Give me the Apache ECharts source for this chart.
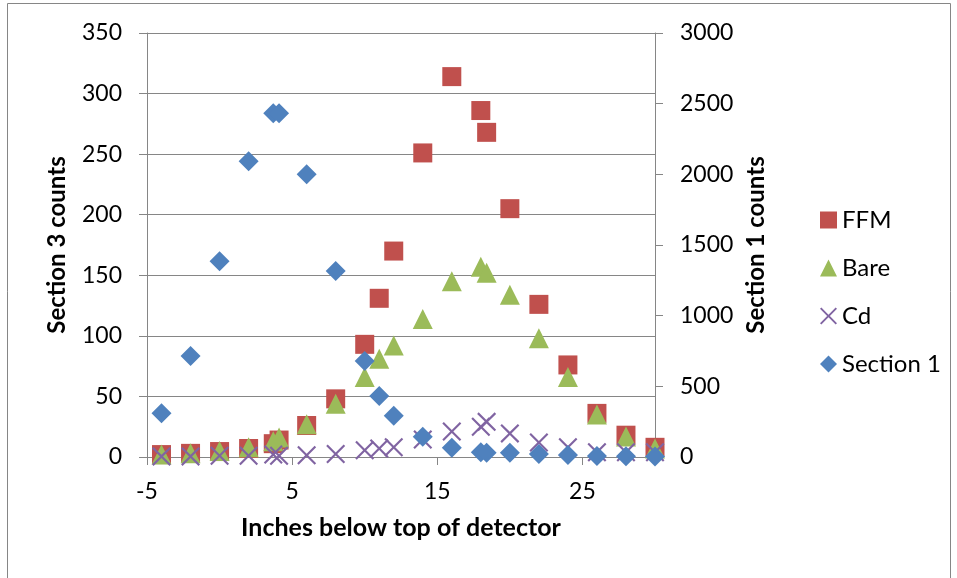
<!DOCTYPE html>
<html>
<head>
<meta charset="utf-8">
<script src="https://cdn.jsdelivr.net/npm/echarts@6/dist/echarts.min.js"></script>
<style>
  html, body { margin: 0; padding: 0; background: #fff; }
  #chart { width: 957px; height: 578px; }
</style>
</head>
<body>
<div id="chart"></div>
<script>
// Detector position (inches below top) for each measurement
const positions = [-4, -2, 0, 2, 3.7, 4.1, 6, 8, 10, 11, 12, 14, 16, 18, 18.4, 20, 22, 24, 26, 28, 30];

// Section 3 counts (left axis)
const ffmCounts  = [2, 3, 4.5, 7, 11, 14, 26, 48, 93, 131, 170, 251, 314, 286, 268, 205, 126, 76, 36, 18, 8];
const bareCounts = [2, 3, 5, 8, 13, 16, 27, 44, 66, 81, 92, 114, 145, 157, 152, 134, 98, 66, 35, 17, 7];
const cdCounts   = [0.5, 0.5, 1, 1, 2, 1, 1.5, 2.5, 5.5, 7, 8, 14.5, 21, 25, 29, 19.5, 12, 8, 4, 4, 4];

// Section 1 counts (right axis)
const section1Counts = [310, 715, 1385, 2092, 2432, 2432, 2000, 1316, 680, 432, 292, 144, 66, 33, 30, 30, 21, 14, 7, 5, 3];

// Axis tick labels
const xTicks = [-5, 5, 15, 25];

const FONT = 'Lato';
const AXIS_GREY = '#868686';
const X_MARK = 'path://M0,8L8,0L50,42L92,0L100,8L58,50L100,92L92,100L50,58L8,100L0,92L42,50Z';

function pairs(values) {
  return positions.map((x, i) => [x, values[i]]);
}

const labelStyle = { color: '#000', fontFamily: FONT, fontSize: 23 };
const nameStyle = { color: '#000', fontFamily: FONT, fontSize: 24, fontWeight: 'bold' };
const plainNumber = v => String(v);

const chart = echarts.init(document.getElementById('chart'), null, { renderer: 'canvas' });

chart.setOption({
  animation: false,
  backgroundColor: '#fff',
  graphic: [{
    type: 'rect',
    silent: true,
    z: -10,
    shape: { x: 7.5, y: 3.5, width: 943, height: 600 },
    style: { fill: 'none', stroke: AXIS_GREY, lineWidth: 1 }
  }],
  grid: { left: 147, top: 33, width: 508, height: 424 },
  legend: {
    orient: 'vertical',
    left: 815,
    top: 203,
    itemWidth: 17,
    itemHeight: 17,
    itemGap: 24,
    textStyle: { color: '#000', fontFamily: FONT, fontSize: 24 },
    data: ['FFM', 'Bare', 'Cd', 'Section 1']
  },
  xAxis: {
    type: 'value',
    min: -5,
    max: 30,
    interval: 10,
    name: 'Inches below top of detector',
    nameLocation: 'middle',
    nameGap: 58,
    nameTextStyle: Object.assign({}, nameStyle, { fontSize: 25 }),
    axisLine: { show: true, onZero: false, lineStyle: { color: AXIS_GREY } },
    axisTick: { show: true, length: 8, customValues: xTicks, lineStyle: { color: AXIS_GREY } },
    axisLabel: Object.assign({ margin: 23, customValues: xTicks, formatter: plainNumber }, labelStyle),
    splitLine: { show: false }
  },
  yAxis: [{
    type: 'value',
    position: 'left',
    min: 0,
    max: 350,
    interval: 50,
    name: 'Section 3 counts',
    nameLocation: 'middle',
    nameRotate: 90,
    nameGap: 78,
    nameTextStyle: nameStyle,
    axisLine: { show: true, onZero: false, lineStyle: { color: AXIS_GREY } },
    axisTick: { show: true, length: 8, lineStyle: { color: AXIS_GREY } },
    axisLabel: Object.assign({ margin: 25, formatter: plainNumber }, labelStyle),
    splitLine: { show: true, lineStyle: { color: AXIS_GREY, width: 1 } }
  }, {
    type: 'value',
    position: 'right',
    min: 0,
    max: 3000,
    interval: 500,
    name: 'Section 1 counts',
    nameLocation: 'middle',
    nameRotate: 90,
    nameGap: 89,
    nameTextStyle: nameStyle,
    axisLine: { show: true, onZero: false, lineStyle: { color: AXIS_GREY } },
    axisTick: { show: true, length: 8, lineStyle: { color: AXIS_GREY } },
    axisLabel: Object.assign({ margin: 25, formatter: plainNumber }, labelStyle),
    splitLine: { show: false }
  }],
  series: [{
    name: 'FFM',
    type: 'scatter',
    yAxisIndex: 0,
    symbol: 'rect',
    symbolSize: 19,
    itemStyle: { color: '#C0504D', opacity: 1 },
    data: pairs(ffmCounts)
  }, {
    name: 'Bare',
    type: 'scatter',
    yAxisIndex: 0,
    symbol: 'triangle',
    symbolSize: 20,
    itemStyle: { color: '#9BBB59', opacity: 1 },
    data: pairs(bareCounts)
  }, {
    name: 'Cd',
    type: 'scatter',
    yAxisIndex: 0,
    symbol: X_MARK,
    symbolSize: 19,
    itemStyle: { color: '#8064A2', opacity: 1 },
    data: pairs(cdCounts)
  }, {
    name: 'Section 1',
    type: 'scatter',
    yAxisIndex: 1,
    symbol: 'diamond',
    symbolSize: 20,
    itemStyle: { color: '#4F81BD', opacity: 1 },
    data: pairs(section1Counts)
  }]
});
</script>
</body>
</html>
